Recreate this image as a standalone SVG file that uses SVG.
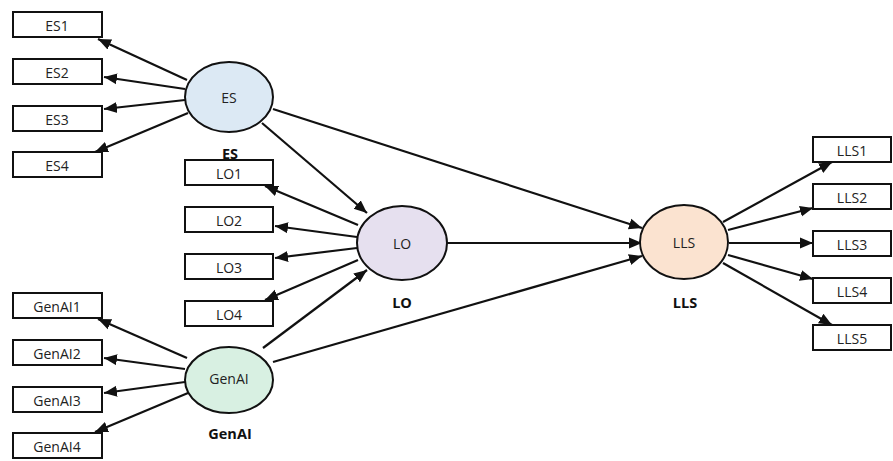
<svg xmlns="http://www.w3.org/2000/svg" width="893" height="461" viewBox="0 0 893 461">
<style>
.box{fill:#fff;stroke:#111;stroke-width:2}
.t{font-family:"Open Sans","Liberation Sans",sans-serif;font-size:14px;fill:#222;text-anchor:middle;dominant-baseline:central}
.lbl{font-family:"Open Sans","Liberation Sans",sans-serif;font-size:14.5px;font-weight:bold;fill:#111;text-anchor:middle;dominant-baseline:central}
.lat{stroke:#111;stroke-width:2}
.c line{stroke:#111;stroke-width:2.2;marker-end:url(#ah)}
</style>
<defs>
<marker id="ah" markerUnits="userSpaceOnUse" markerWidth="13" markerHeight="13" viewBox="0 0 13 13" refX="13" refY="6.5" orient="auto">
<path d="M0,1 L13,6.5 L0,12 Z" fill="#111"/>
</marker>
</defs>
<rect width="893" height="461" fill="#fff"/>
<g class="c" id="connectors">
<line x1="187" y1="80" x2="98" y2="39"/>
<line x1="185" y1="89" x2="104" y2="77"/>
<line x1="185" y1="100" x2="104" y2="109"/>
<line x1="188" y1="113" x2="95" y2="152"/>
<line x1="358" y1="225" x2="265" y2="186"/>
<line x1="357" y1="237" x2="275" y2="226"/>
<line x1="357" y1="248" x2="275" y2="258"/>
<line x1="358" y1="260" x2="265" y2="300"/>
<line x1="187" y1="358" x2="98" y2="319"/>
<line x1="185" y1="369" x2="104" y2="358"/>
<line x1="185" y1="382" x2="104" y2="393"/>
<line x1="188" y1="393" x2="95" y2="432"/>
<line x1="723" y1="222" x2="832" y2="162"/>
<line x1="728" y1="230" x2="813" y2="208"/>
<line x1="729" y1="243" x2="813" y2="243"/>
<line x1="728" y1="255" x2="813" y2="279"/>
<line x1="723" y1="263" x2="832" y2="325"/>
<line x1="262" y1="123" x2="367" y2="213"/>
<line x1="273" y1="109" x2="642" y2="228"/>
<line x1="263" y1="348" x2="367" y2="270"/>
<line x1="447" y1="243" x2="642" y2="243"/>
<line x1="273" y1="362" x2="642" y2="256"/>
</g>
<g id="ES1"><rect class="box" x="13" y="12" width="89" height="25"/><text class="t" x="57" y="25">ES1</text></g>
<g id="ES2"><rect class="box" x="13" y="59" width="89" height="25"/><text class="t" x="57" y="72">ES2</text></g>
<g id="ES3"><rect class="box" x="13" y="106" width="89" height="25"/><text class="t" x="57" y="119">ES3</text></g>
<g id="ES4"><rect class="box" x="13" y="152" width="89" height="25"/><text class="t" x="57" y="165">ES4</text></g>
<g id="LO1"><rect class="box" x="185" y="160" width="88" height="25"/><text class="t" x="229" y="173">LO1</text></g>
<g id="LO2"><rect class="box" x="185" y="207" width="88" height="25"/><text class="t" x="229" y="220">LO2</text></g>
<g id="LO3"><rect class="box" x="185" y="254" width="88" height="25"/><text class="t" x="229" y="267">LO3</text></g>
<g id="LO4"><rect class="box" x="185" y="301" width="88" height="25"/><text class="t" x="229" y="314">LO4</text></g>
<g id="GenAI1"><rect class="box" x="13" y="293" width="89" height="25"/><text class="t" x="57" y="306">GenAI1</text></g>
<g id="GenAI2"><rect class="box" x="13" y="340" width="89" height="25"/><text class="t" x="57" y="353">GenAI2</text></g>
<g id="GenAI3"><rect class="box" x="13" y="387" width="89" height="25"/><text class="t" x="57" y="400">GenAI3</text></g>
<g id="GenAI4"><rect class="box" x="13" y="433" width="89" height="25"/><text class="t" x="57" y="446">GenAI4</text></g>
<g id="LLS1"><rect class="box" x="813" y="137" width="78" height="25"/><text class="t" x="852" y="150">LLS1</text></g>
<g id="LLS2"><rect class="box" x="813" y="184" width="78" height="25"/><text class="t" x="852" y="197">LLS2</text></g>
<g id="LLS3"><rect class="box" x="813" y="231" width="78" height="25"/><text class="t" x="852" y="244">LLS3</text></g>
<g id="LLS4"><rect class="box" x="813" y="278" width="78" height="25"/><text class="t" x="852" y="291">LLS4</text></g>
<g id="LLS5"><rect class="box" x="813" y="325" width="78" height="25"/><text class="t" x="852" y="338">LLS5</text></g>
<g id="ES"><ellipse class="lat" cx="229" cy="97" rx="44" ry="35" fill="#dce9f4"/><text class="t" x="229" y="97">ES</text><text class="lbl" x="230" y="153">ES</text></g>
<g id="LO"><ellipse class="lat" cx="402" cy="243" rx="45" ry="37" fill="#e6e0ef"/><text class="t" x="402" y="243">LO</text><text class="lbl" x="402" y="302">LO</text></g>
<g id="GenAI"><ellipse class="lat" cx="229" cy="380" rx="44" ry="33" fill="#d8f0e2"/><text class="t" x="229" y="378">GenAI</text><text class="lbl" x="230" y="433">GenAI</text></g>
<g id="LLS"><ellipse class="lat" cx="684" cy="242" rx="44" ry="37" fill="#fbe3d0"/><text class="t" x="684" y="242">LLS</text><text class="lbl" x="685" y="302">LLS</text></g>
</svg>
